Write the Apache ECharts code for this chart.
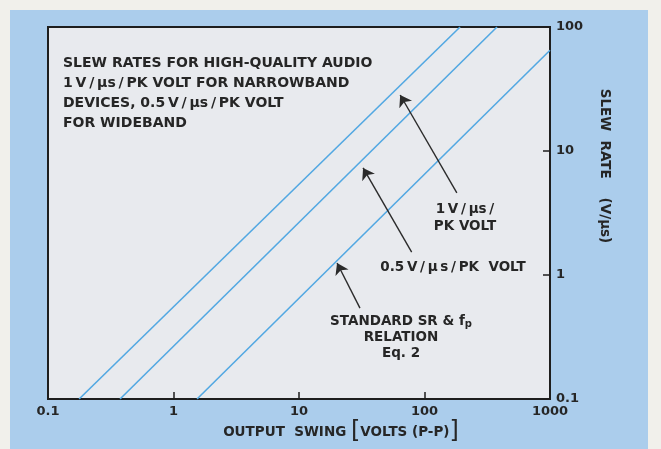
<!DOCTYPE html>
<html>
<head>
<meta charset="utf-8">
<script src="https://cdn.jsdelivr.net/npm/echarts@6/dist/echarts.min.js"></script>
<style>
  html, body { margin: 0; padding: 0; background: #f1f0eb; }
  #slewChart { width: 661px; height: 449px; }
</style>
</head>
<body>
<div id="slewChart"></div>
<script>
// axis decades
var swingTicks = [0.1, 1, 10, 100, 1000];
var rateTicks = [0.1, 1, 10, 100];

// 1 V/us/pk volt line
var line1Swing = [0.177, 192];
var line1Rate = [0.1, 100];
// 0.5 V/us/pk volt line
var line2Swing = [0.375, 378];
var line2Rate = [0.1, 100];
// standard SR & fp relation (Eq. 2)
var line3Swing = [1.54, 1000];
var line3Rate = [0.1, 65];

// pointer arrows [tailSwing, tailRate, headSwing, headRate]
var arrow1 = [181, 4.6, 64, 28.3];
var arrow2 = [79, 1.53, 32.4, 7.3];
var arrow3 = [30.6, 0.54, 20.1, 1.25];

var FONT = 'DejaVu Sans';
var TXT = 'bold 13.5px "' + FONT + '"';
var TITLE_TXT = 'bold 14px "' + FONT + '"';
var INK = '#262626';
var LINE_BLUE = '#52a8e2';
var T = '\u2009'; // thin space, the lettering is loosely set

function pairs(xs, ys) {
    return xs.map(function (x, i) { return [x, ys[i]]; });
}
function arrowItem(a) {
    return { coords: [[a[0], a[1]], [a[2], a[3]]] };
}

var slewChart = echarts.init(document.getElementById('slewChart'));

var option = {
    backgroundColor: '#f1f0eb',
    animation: false,
    grid: {
        left: 48, top: 27, right: 111, bottom: 50,
        show: true,
        backgroundColor: '#e8eaee',
        borderColor: '#1e1e1e',
        borderWidth: 2
    },
    xAxis: {
        type: 'log',
        logBase: 10,
        min: swingTicks[0],
        max: swingTicks[swingTicks.length - 1],
        axisLine: { show: true, lineStyle: { color: '#1e1e1e', width: 2 } },
        axisTick: { show: true, inside: true, length: 7, lineStyle: { color: '#1e1e1e', width: 1.5 } },
        minorTick: { show: false },
        splitLine: { show: false },
        axisLabel: {
            color: INK, fontFamily: FONT, fontSize: 13, fontWeight: 'bold', margin: 6,
            formatter: function (v) { return String(+v.toPrecision(3)); }
        }
    },
    yAxis: {
        type: 'log',
        logBase: 10,
        position: 'right',
        min: rateTicks[0],
        max: rateTicks[rateTicks.length - 1],
        axisLine: { show: true, lineStyle: { color: '#1e1e1e', width: 2 } },
        axisTick: { show: true, inside: true, length: 7, lineStyle: { color: '#1e1e1e', width: 1.5 } },
        splitLine: { show: false },
        axisLabel: {
            color: INK, fontFamily: FONT, fontSize: 13, fontWeight: 'bold', margin: 6,
            formatter: function (v) { return String(+v.toPrecision(3)); }
        }
    },
    graphic: [
        // blue panel behind everything
        {
            type: 'rect', z: -10, silent: true,
            shape: { x: 10, y: 10, width: 638, height: 440 },
            style: { fill: '#abcdec' }
        },
        {
            type: 'text', left: 63, top: 53, z: 10,
            style: {
                text: 'SLEW RATES FOR HIGH-QUALITY AUDIO\n' +
                    '1' + T + 'V' + T + '/' + T + '\u03bcs' + T + '/' + T + 'PK VOLT FOR NARROWBAND\n' +
                    'DEVICES, 0.5' + T + 'V' + T + '/' + T + '\u03bcs' + T + '/' + T + 'PK VOLT\n' +
                    'FOR WIDEBAND',
                fill: INK, font: TITLE_TXT, lineHeight: 20
            }
        },
        {
            type: 'text', x: 465, y: 218, z: 10,
            style: {
                text: '1' + T + 'V' + T + '/' + T + '\u03bcs' + T + '/\nPK VOLT', fill: INK, font: TXT,
                lineHeight: 17, align: 'center', verticalAlign: 'middle'
            }
        },
        {
            type: 'text', x: 453, y: 267, z: 10,
            style: {
                text: '0.5' + T + 'V' + T + '/' + T + '\u03bc' + T + 's' + T + '/' + T + 'PK  VOLT',
                fill: INK, font: TXT, align: 'center', verticalAlign: 'middle'
            }
        },
        {
            type: 'text', x: 401, y: 337, z: 10,
            style: {
                text: 'STANDARD SR & f{s|p}\nRELATION\nEq. 2', fill: INK, font: TXT,
                lineHeight: 16, align: 'center', verticalAlign: 'middle',
                rich: { s: { fontSize: 10, fontFamily: FONT, fontWeight: 'bold', fill: INK, padding: [6, 0, 0, 0] } }
            }
        },
        {
            type: 'text', x: 341, y: 432, z: 10,
            style: {
                text: 'OUTPUT  SWING {b|[}VOLTS (P-P){b|]}', fill: INK, font: TXT,
                align: 'center', verticalAlign: 'middle',
                rich: { b: { fontSize: 24, fontFamily: FONT, fill: INK } }
            }
        },
        {
            type: 'text', x: 604, y: 166, z: 10, rotation: -Math.PI / 2,
            style: {
                text: 'SLEW  RATE    (V/\u03bcs)', fill: INK, font: TXT,
                align: 'center', verticalAlign: 'middle'
            }
        }
    ],
    series: [
        {
            type: 'line', data: pairs(line1Swing, line1Rate), symbol: 'none',
            lineStyle: { color: LINE_BLUE, width: 1.6 }, z: 3
        },
        {
            type: 'line', data: pairs(line2Swing, line2Rate), symbol: 'none',
            lineStyle: { color: LINE_BLUE, width: 1.6 }, z: 3
        },
        {
            type: 'line', data: pairs(line3Swing, line3Rate), symbol: 'none',
            lineStyle: { color: LINE_BLUE, width: 1.6 }, z: 3
        },
        {
            type: 'lines', coordinateSystem: 'cartesian2d', z: 5,
            symbol: ['none', 'arrow'], symbolSize: [6, 11],
            lineStyle: { color: '#2b2b2b', width: 1.4, opacity: 1 },
            data: [arrowItem(arrow1), arrowItem(arrow2), arrowItem(arrow3)]
        }
    ]
};

slewChart.setOption(option);

window.addEventListener('resize', function () {
    slewChart.resize();
});
</script>
</body>
</html>
